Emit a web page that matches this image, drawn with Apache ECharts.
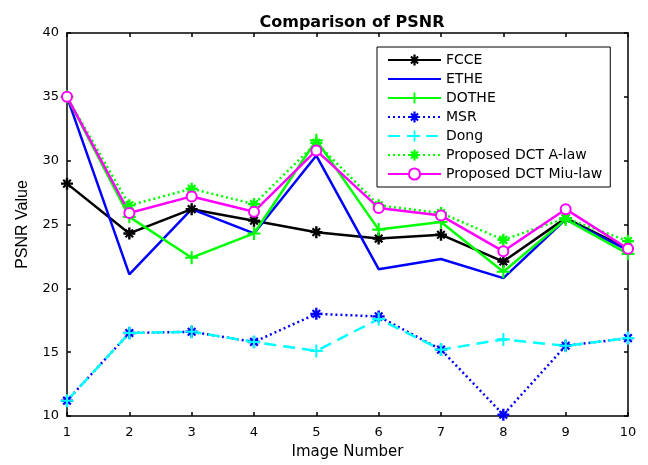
<!DOCTYPE html>
<html>
<head>
<meta charset="utf-8">
<script src="https://cdn.jsdelivr.net/npm/echarts@6/dist/echarts.min.js"></script>
<style>
  html, body { margin: 0; padding: 0; background: #fff; }
  #chart { width: 648px; height: 465px; }
</style>
</head>
<body>
<div id="chart"></div>
<script>
// PSNR per test image for each enhancement method
const imageNumbers = [1, 2, 3, 4, 5, 6, 7, 8, 9, 10];
const fcce      = [28.2, 24.3, 26.2, 25.3, 24.4, 23.9, 24.2, 22.1, 25.5, 23.1];
const ethe      = [35.0, 21.1, 26.2, 24.3, 30.4, 21.5, 22.3, 20.8, 25.4, 23.0];
const dothe     = [35.0, 25.6, 22.4, 24.3, 31.6, 24.6, 25.2, 21.3, 25.4, 22.7];
const msr       = [11.2, 16.5, 16.6, 15.8, 18.0, 17.8, 15.2, 10.1, 15.5, 16.1];
const dong      = [11.2, 16.5, 16.6, 15.8, 15.1, 17.6, 15.2, 16.0, 15.5, 16.1];
const dctALaw   = [35.0, 26.5, 27.8, 26.6, 31.4, 26.5, 25.9, 23.8, 25.5, 23.7];
const dctMiuLaw = [35.0, 25.9, 27.2, 26.0, 30.8, 26.3, 25.7, 22.9, 26.2, 23.1];

const yTicks = { min: 10, max: 40, step: 5 };
const xTicks = { min: 1, max: 10, step: 1 };

// marker shapes: asterisk (plus + cross) and plus
const STAR = 'path://M4 0H6V10H4Z M0 4H10V6H0Z M2.46 1.18L8.82 7.54L7.54 8.82L1.18 2.46Z M8.82 2.46L2.46 8.82L1.18 7.54L7.54 1.18Z';
const PLUS = 'path://M4.2 0H5.8V10H4.2Z M0 4.2H10V5.8H0Z';

const WIDE = 'DejaVu Sans, Verdana, sans-serif';
const NARROW = 'Liberation Sans, Arial, Helvetica, sans-serif';

function pairs(values) {
  return imageNumbers.map((x, i) => [x, values[i]]);
}

function lineSeries(name, values, color, lineType, symbol, symbolSize) {
  const hollow = symbol === 'emptyCircle';
  return {
    name: name,
    type: 'line',
    data: pairs(values),
    xAxisIndex: 0,
    yAxisIndex: 0,
    symbol: symbol,
    symbolSize: symbolSize,
    showAllSymbol: true,
    animation: false,
    lineStyle: { color: color, width: 2.5, type: lineType },
    itemStyle: hollow
      ? { color: color, borderColor: color, borderWidth: 2.2 }
      : { color: color, borderWidth: 0 },
    emphasis: { disabled: true }
  };
}

const chart = echarts.init(document.getElementById('chart'), null, { renderer: 'canvas' });

const axisLine = { show: true, lineStyle: { color: '#000', width: 1.5 } };
const tickInside = { show: true, inside: true, length: 4, lineStyle: { color: '#000', width: 1.5 } };

chart.setOption({
  backgroundColor: '#fff',
  animation: false,
  title: {
    text: 'Comparison of PSNR',
    left: 347,
    top: 10,
    textAlign: 'center',
    textStyle: { fontFamily: WIDE, fontSize: 16, fontWeight: 'bold', color: '#000' }
  },
  grid: { left: 67, right: 20, top: 33, bottom: 48 },
  legend: {
    orient: 'vertical',
    left: 377,
    top: 47,
    padding: [6, 8, 6, 10],
    itemWidth: 53,
    itemHeight: 14,
    itemGap: 5,
    backgroundColor: '#fff',
    borderColor: '#000',
    borderWidth: 1,
    textStyle: { fontFamily: WIDE, fontSize: 14, color: '#000', lineHeight: 14 },
    data: [
      'FCCE',
      { name: 'ETHE', itemStyle: { color: 'rgba(0,0,0,0)' } },
      'DOTHE', 'MSR', 'Dong', 'Proposed DCT A-law', 'Proposed DCT Miu-law'
    ]
  },
  xAxis: [
    {
      type: 'value',
      min: xTicks.min, max: xTicks.max, interval: xTicks.step,
      name: 'Image Number',
      nameLocation: 'middle',
      nameGap: 29,
      nameTextStyle: { fontFamily: WIDE, fontSize: 15, color: '#000' },
      axisLine: axisLine,
      axisTick: tickInside,
      axisLabel: { fontFamily: WIDE, fontSize: 13, color: '#000', margin: 10 },
      splitLine: { show: false }
    },
    {
      type: 'value', position: 'top',
      min: xTicks.min, max: xTicks.max, interval: xTicks.step,
      axisLine: axisLine, axisTick: tickInside,
      axisLabel: { show: false }, splitLine: { show: false }
    }
  ],
  yAxis: [
    {
      type: 'value',
      min: yTicks.min, max: yTicks.max, interval: yTicks.step,
      name: 'PSNR Value',
      nameLocation: 'middle',
      nameGap: 36,
      nameTextStyle: { fontFamily: NARROW, fontSize: 16, color: '#000' },
      axisLine: axisLine,
      axisTick: tickInside,
      axisLabel: { fontFamily: WIDE, fontSize: 13, color: '#000', margin: 8 },
      splitLine: { show: false }
    },
    {
      type: 'value', position: 'right',
      min: yTicks.min, max: yTicks.max, interval: yTicks.step,
      axisLine: axisLine, axisTick: tickInside,
      axisLabel: { show: false }, splitLine: { show: false }
    }
  ],
  series: [
    lineSeries('FCCE', fcce, '#000000', 'solid', STAR, 12),
    lineSeries('ETHE', ethe, '#0000ff', 'solid', 'none', 0),
    lineSeries('DOTHE', dothe, '#00ff00', 'solid', PLUS, 13),
    lineSeries('MSR', msr, '#0000ff', [2, 3], STAR, 12),
    lineSeries('Dong', dong, '#00ffff', [12, 7], PLUS, 13),
    lineSeries('Proposed DCT A-law', dctALaw, '#00ff00', [2, 3], STAR, 12),
    lineSeries('Proposed DCT Miu-law', dctMiuLaw, '#ff00ff', 'solid', 'emptyCircle', 10)
  ]
});
</script>
</body>
</html>
